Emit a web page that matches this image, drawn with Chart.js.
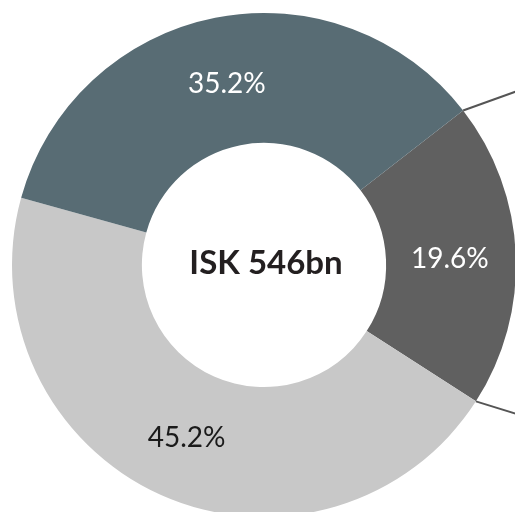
<!DOCTYPE html>
<html>
<head>
<meta charset="utf-8">
<script src="https://cdn.jsdelivr.net/npm/chart.js@4"></script>
<style>
  html, body { margin: 0; padding: 0; background: #fff; overflow: hidden; width: 515px; height: 512px; }
  #wrap { position: absolute; left: 4px; top: 5px; width: 520px; height: 520px; }
</style>
</head>
<body>
<div id="wrap"><canvas id="myChart"></canvas></div>
<script>
var labels = ["Segment B", "Segment C", "Segment A"];
var shares = [19.6, 45.2, 35.2];
var colors = ["#606060", "#c8c8c8", "#586c74"];
var labelColors = ["#ffffff", "#1a1a1a", "#ffffff"];
var centerText = "ISK 546bn";

// leader lines from the small slice edges + centre text + % labels
var decor = {
  id: "decor",
  afterDatasetsDraw: function(chart) {
    var ctx = chart.ctx;
    var arcs = chart.getDatasetMeta(0).data;
    var a = arcs[0];
    var r = a.outerRadius;
    ctx.save();
    ctx.strokeStyle = "#555555";
    ctx.lineWidth = 2;
    [[a.startAngle, -0.36], [a.endAngle, 0.31]].forEach(function(p) {
      var x0 = a.x + Math.cos(p[0]) * r;
      var y0 = a.y + Math.sin(p[0]) * r;
      ctx.beginPath();
      ctx.moveTo(x0, y0);
      ctx.lineTo(x0 + 80, y0 + 80 * p[1]);
      ctx.stroke();
    });

    ctx.textAlign = "center";
    ctx.textBaseline = "middle";
    ctx.font = "28px Lato";
    arcs.forEach(function(arc, i) {
      var pos = arc.tooltipPosition();
      ctx.fillStyle = labelColors[i];
      ctx.fillText(shares[i].toFixed(1) + "%", pos.x - 1, pos.y + 2);
    });

    ctx.fillStyle = "#231f20";
    ctx.font = "bold 33px Lato";
    ctx.fillText(centerText, a.x + 2, a.y - 2);
    ctx.restore();
  }
};

var myChart = new Chart("myChart", {
  type: "doughnut",
  data: {
    labels: labels,
    datasets: [{
      data: shares,
      backgroundColor: colors,
      borderWidth: 0
    }]
  },
  options: {
    responsive: true,
    maintainAspectRatio: false,
    animation: false,
    rotation: 52.2,
    radius: 252,
    cutout: 126,
    layout: { padding: 0 },
    plugins: {
      legend: { display: false },
      tooltip: { enabled: false }
    }
  },
  plugins: [decor]
});
</script>
</body>
</html>
